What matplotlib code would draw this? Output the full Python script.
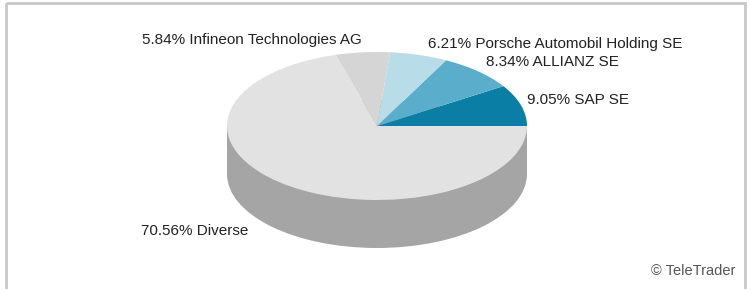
import matplotlib
matplotlib.use("Agg")
import matplotlib.pyplot as plt
from matplotlib.patches import Rectangle

# Datos del gráfico
names = ["SAP SE", "ALLIANZ SE", "Porsche Automobil Holding SE",
         "Infineon Technologies AG", "Diverse"]
shares = [9.05, 8.34, 6.21, 5.84, 70.56]
colors = ["#0a7ea5", "#5aaecb", "#b8dde9", "#d5d5d5", "#e2e2e2"]
side_color = "#a5a5a5"

W, H = 751, 289
plt.rcParams["font.family"] = ["Liberation Sans", "DejaVu Sans"]

fig = plt.figure(figsize=(W / 100, H / 100), dpi=100)
fig.patch.set_facecolor("white")

# Marco gris alrededor del gráfico
bg = fig.add_axes([0, 0, 1, 1])
bg.set_xlim(0, W)
bg.set_ylim(H, 0)
bg.axis("off")
bg.add_patch(Rectangle((6, 3), 739, 300, fill=False, edgecolor="#c8c8c8", lw=2))

# Pastel 3D: elipse superior de radio 150x74 px, profundidad 48 px
cx, cy, rx, ry, depth = 377, 126, 150, 74, 48
d = depth / ry
ax = fig.add_axes([(cx - rx) / W, (H - (cy + ry + depth)) / H,
                   2 * rx / W, (2 * ry + depth) / H])

# Lateral (base y costado)
ax.pie([1], colors=[side_color], center=(0, -d), radius=1,
       wedgeprops=dict(linewidth=0), frame=True)
ax.add_patch(Rectangle((-1, -d), 2, d, color=side_color, lw=0))
# Cara superior
ax.pie(shares, colors=colors, startangle=0, counterclock=True,
       center=(0, 0), radius=1, wedgeprops=dict(linewidth=0), frame=True)
ax.set_aspect("auto")
ax.set_xlim(-1, 1)
ax.set_ylim(-1 - d, 1)
ax.axis("off")

# Etiquetas
fs = 11
label_pos = [(527, 100), (486, 62), (428, 44), (142, 40), (141, 231)]
for (x, y), n, s in zip(label_pos, names, shares):
    bg.text(x, y, f"{s:.2f}% {n}", fontsize=fs, color="#222222",
            ha="left", va="center")

bg.text(735, 271, "© TeleTrader", fontsize=10.5, color="#555555",
        ha="right", va="center")

fig.savefig("out.png", dpi=100, facecolor="white")
